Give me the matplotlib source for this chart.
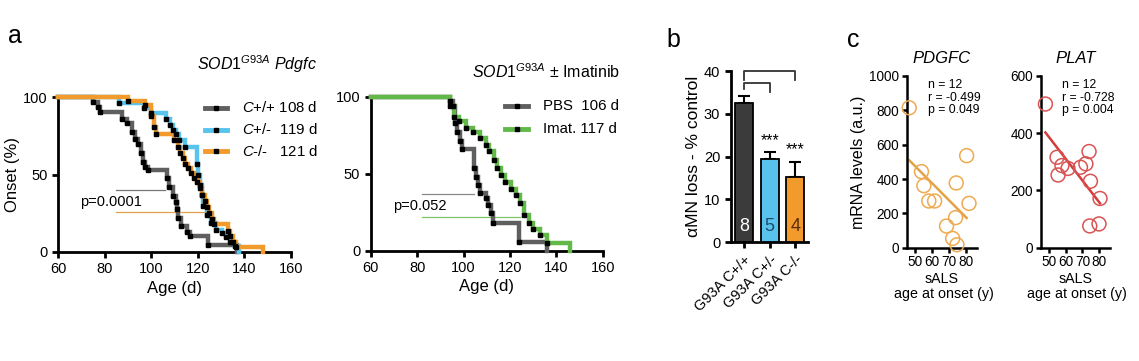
import matplotlib
matplotlib.use("Agg")
import matplotlib.pyplot as plt
import numpy as np

plt.rcParams["font.family"] = ["Liberation Sans", "DejaVu Sans"]
plt.rcParams["mathtext.fontset"] = "custom"
plt.rcParams["mathtext.rm"] = "Liberation Sans"
plt.rcParams["mathtext.it"] = "Liberation Sans:italic"

# ---- panel a, left: SOD1 Pdgfc onset curves (time of drop, % after drop)
wt_t = [75, 77, 78, 87.3, 89.5, 91.6, 93, 94.5, 95.5, 96.6, 97.5, 98.5, 106.6, 107.5,
        109.5, 110.5, 111, 111.6, 113, 115.2, 116.6, 124.5, 137]
wt_s = [97, 93.5, 90.5, 86, 83, 77.6, 73, 70, 64, 58, 55, 53, 48, 42,
        36, 32, 28, 22, 16.5, 13, 10, 4.5, 0]
het_t = [86, 97, 100, 106.5, 108, 109.5, 110.5, 112, 114.5, 119.5, 120.3, 121, 121.7,
         122.4, 123.8, 125.5, 128, 130.3, 132, 133.8, 136, 137.5]
het_s = [96, 93, 90, 86, 82, 79, 76, 72, 68, 57, 50, 43, 37,
         30, 24, 18.5, 14, 12, 9.5, 6.7, 4, 0]
ko_t = [90, 97.5, 100, 101, 102, 110, 111.5, 112.5, 113.5, 114.5, 116, 117, 118.5,
        119.5, 121, 122, 123, 124, 125, 126, 127, 133, 134, 135, 136.5, 148]
ko_s = [97.5, 95, 88, 81, 76, 72, 68, 64, 61, 57, 54, 51, 48,
        45, 41, 37, 33, 29, 25, 21, 18, 13.5, 10, 6.5, 3.5, 0]
a1_labels = ["$\\it{C}$+/+ 108 d", "$\\it{C}$+/-  119 d", "$\\it{C}$-/-   121 d"]

# ---- panel a, right: PBS vs Imatinib
pbs_t = [94.2, 95.3, 96.3, 97, 98.5, 99.5, 104.3, 105.4, 106.4, 107.1, 109.7, 110.7,
         111.7, 112.6, 124, 136]
pbs_s = [97, 94, 83, 77, 71, 66, 54, 48, 43, 37.5, 34, 30, 24.5, 18, 6, 0]
ima_t = [94, 96, 98, 101, 104, 107, 109.5, 111, 113, 114.5, 116, 118, 120.5, 122.5,
         124.5, 126, 128, 130, 133, 136, 146]
ima_s = [94, 87, 84, 80, 77, 73, 69, 65, 59, 54, 49, 45, 40, 36, 31, 23, 18, 14, 10, 5, 0]
a2_labels = ["PBS  106 d", "Imat. 117 d"]

# ---- panel b: alpha-MN loss
b_groups = ["G93A C+/+", "G93A C+/-", "G93A C-/-"]
b_means = [32.5, 19.5, 15.3]
b_sem = [1.7, 1.5, 3.5]
b_n = ["8", "5", "4"]

# ---- panel c: sALS correlations
pdgfc_age = [46.7, 53.9, 55.3, 58.2, 61.6, 68.6, 74.3, 73.9, 72.2, 74.7, 80.4, 81.8]
pdgfc_val = [815, 443, 361, 272, 272, 126, 377, 175, 54, 17, 536, 258]
plat_age = [48.0, 54.9, 55.5, 57.8, 61.4, 68.8, 72.0, 73.9, 74.7, 80.4, 74.3, 79.8]
plat_val = [502, 316, 254, 287, 277, 281, 293, 336, 232, 172, 76, 83]
fit_end = 80.4

GREY = "#5f5f5f"
BLUE = "#58c3ec"
ORANGE = "#f39a2c"
GREEN = "#62b94a"

fig = plt.figure(figsize=(11.39, 3.61), dpi=100)


def style_axes(ax, lw=2.0):
    for s in ["top", "right"]:
        ax.spines[s].set_visible(False)
    for s in ["left", "bottom"]:
        ax.spines[s].set_linewidth(lw)
    ax.tick_params(width=lw, length=4, direction="out")


def km(ax, t, s, color):
    tt = [60] + list(t)
    ss = [100] + list(s)
    ax.step(tt, ss, where="post", color=color, lw=3.2, clip_on=False, zorder=3,
            solid_joinstyle="miter")
    ax.plot(t[:-1], s[:-1], "s", color="black", ms=2.6, zorder=4, clip_on=False)


def manual_legend(ax, colors, labels, x0, x1, xt, ys, fs):
    for c, lab, y in zip(colors, labels, ys):
        ax.plot([x0, x1], [y, y], color=c, lw=3.5, transform=ax.transAxes, clip_on=False)
        ax.plot([(x0 + x1) / 2], [y], "s", color="black", ms=2.6,
                transform=ax.transAxes, clip_on=False)
        ax.text(xt, y, lab, transform=ax.transAxes, va="center", ha="left", fontsize=fs)


def onset_axes(ax):
    style_axes(ax)
    ax.set_xlim(60, 160)
    ax.set_ylim(0, 100)
    ax.set_xticks(range(60, 161, 20))
    ax.set_yticks([0, 50, 100])
    ax.tick_params(labelsize=10.5)
    ax.set_xlabel("Age (d)", fontsize=12, labelpad=3)


# ---------- a1
ax1 = fig.add_axes([0.0509, 0.302, 0.2046, 0.429])
onset_axes(ax1)
ax1.set_ylabel("Onset (%)", fontsize=12, labelpad=2)
km(ax1, wt_t, wt_s, GREY)
km(ax1, het_t, het_s, BLUE)
km(ax1, ko_t, ko_s, ORANGE)
ax1.plot([85, 106], [40, 40], color="#777777", lw=0.9)
ax1.plot([85, 124.5], [25.5, 25.5], color="#e0a24a", lw=0.9)
ax1.text(69.3, 32, "p=0.0001", fontsize=10.5, va="center")
manual_legend(ax1, [GREY, BLUE, ORANGE], a1_labels, 0.63, 0.725, 0.79,
              [0.93, 0.79, 0.65], 10.8)
ax1.text(1.11, 1.215, "$SOD1^{G93A}$ $Pdgfc$", transform=ax1.transAxes,
         ha="right", va="center", fontsize=11.5)

# ---------- a2
ax2 = fig.add_axes([0.3255, 0.305, 0.2037, 0.427])
onset_axes(ax2)
km(ax2, pbs_t, pbs_s, GREY)
km(ax2, ima_t, ima_s, GREEN)
ax2.plot([82, 104.3], [37, 37], color="#888888", lw=0.9)
ax2.plot([82, 124.4], [21.7, 21.7], color="#7cc466", lw=0.9)
ax2.text(69.8, 29, "p=0.052", fontsize=10.5, va="center")
manual_legend(ax2, [GREY, GREEN], a2_labels, 0.579, 0.678, 0.743, [0.937, 0.792], 10.8)
ax2.text(1.075, 1.16, "$SOD1^{G93A}$ \u00b1 Imatinib", transform=ax2.transAxes,
         ha="right", va="center", fontsize=11.5)

# ---------- b
ax3 = fig.add_axes([0.6415, 0.3296, 0.0679, 0.4737])
style_axes(ax3)
xb = np.arange(len(b_groups))
ax3.bar(xb, b_means, width=0.7, color=["#3b3b3b", BLUE, ORANGE],
        edgecolor="black", linewidth=1.3, zorder=3)
ax3.errorbar(xb, b_means, yerr=[np.zeros(3), b_sem], fmt="none", ecolor="black",
             elinewidth=1.5, capsize=4, capthick=1.5, zorder=2)
for xi, n, c in zip(xb, b_n, ["white", "#1d4d6d", "#5a2c0a"]):
    ax3.text(xi, 3.6, n, ha="center", va="center", color=c, fontsize=13)
for xi, m, e in zip(xb[1:], b_means[1:], b_sem[1:]):
    ax3.text(xi, m + e + 1.0, "***", ha="center", va="bottom", fontsize=11.5)
ax3.plot([0, 0, 2, 2], [37.8, 40, 40, 37.8], color="#333333", lw=1.3, clip_on=False)
ax3.plot([0, 0, 1, 1], [35.8, 37.2, 37.2, 35.1], color="#333333", lw=1.3, clip_on=False)
ax3.set_xlim(-0.52, 2.49)
ax3.set_ylim(0, 40)
ax3.set_yticks([0, 10, 20, 30, 40])
ax3.set_xticks(xb)
ax3.set_xticklabels(b_groups, rotation=45, ha="right", rotation_mode="anchor",
                    fontsize=10)
ax3.tick_params(labelsize=10.5)
ax3.set_ylabel("\u03b1MN loss - % control", fontsize=12.5, labelpad=2)


# ---------- c
def corr_axes(rect, age, val, color, lcolor, ymax, yticks, title, stats):
    ax = fig.add_axes(rect)
    style_axes(ax, lw=1.8)
    ax.scatter(age, val, s=100, facecolors="none", edgecolors=color, linewidths=1.1,
               clip_on=False, zorder=3)
    k, b0 = np.polyfit(age, val, 1)
    xs = np.array([min(age), fit_end])
    ax.plot(xs, k * xs + b0, color=lcolor, lw=1.8, zorder=2)
    ax.set_xlim(45.2, 86.3)
    ax.set_ylim(0, ymax)
    ax.set_xticks([50, 60, 70, 80])
    ax.set_yticks(yticks)
    ax.tick_params(labelsize=9.8, length=3.5, pad=2)
    ax.set_xlabel("sALS\n age at onset (y)", fontsize=10.3, linespacing=1.1, labelpad=2)
    ax.set_title(title, fontsize=12, style="italic", pad=9)
    ax.text(0.31, 0.98, stats, transform=ax.transAxes, ha="left", va="top",
            fontsize=8.8, linespacing=1.05)
    return ax


ax4 = corr_axes([0.796, 0.3139, 0.0615, 0.4756], pdgfc_age, pdgfc_val, "#eeaa50",
                "#e3a245", 1000, [0, 200, 400, 600, 800, 1000], "PDGFC",
                "n = 12\nr = -0.499\np = 0.049")
ax4.set_ylabel("mRNA levels (a.u.)", fontsize=11.5, labelpad=2)
ax5 = corr_axes([0.9137, 0.3139, 0.0608, 0.4756], plat_age, plat_val, "#d85454",
                "#d53c3c", 600, [0, 200, 400, 600], "PLAT",
                "n = 12\nr = -0.728\np = 0.004")

# panel letters
fig.text(0.007, 0.90, "a", fontsize=18, va="center")
fig.text(0.585, 0.89, "b", fontsize=18, va="center")
fig.text(0.744, 0.89, "c", fontsize=18, va="center")

fig.savefig("out.png", dpi=100)
